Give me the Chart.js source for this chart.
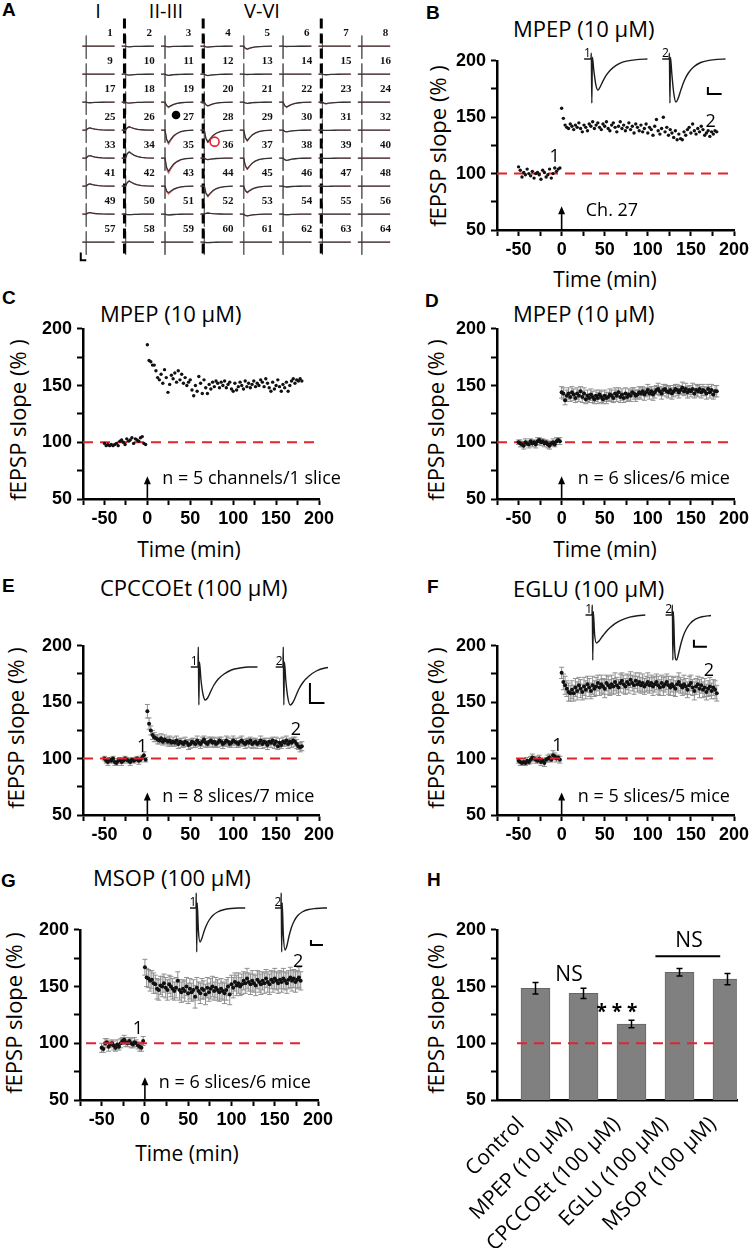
<!DOCTYPE html>
<html lang="en">
<head>
<meta charset="UTF-8">
<title>fEPSP slope - mGluR antagonists</title>
<script src="https://cdn.jsdelivr.net/npm/chart.js"></script>
<style>
  body { margin: 0; background: #fff; }
  #fig { position: relative; width: 750px; height: 1248px; overflow: hidden; font-family: "Open Sans", sans-serif; color: #000; }
  #fig canvas { position: absolute; }
  .lbl { position: absolute; font: bold 19px "Liberation Sans", Arial, sans-serif; line-height: 1; }
  .ttl { position: absolute; font-size: 22px; line-height: 1; white-space: nowrap; }
  .ytl { position: absolute; font-size: 22px; line-height: 1; white-space: nowrap; transform: translate(-50%, -50%) rotate(-90deg); }
  .xtl { position: absolute; font-size: 21px; line-height: 1; white-space: nowrap; transform: translate(-50%, -50%); }
</style>
</head>
<body>
<div id="fig">
  <!-- panel letters -->
  <div class="lbl" style="left:2px;top:0px">A</div>
  <div class="lbl" style="left:426px;top:3px">B</div>
  <div class="lbl" style="left:2px;top:288px">C</div>
  <div class="lbl" style="left:425px;top:291px">D</div>
  <div class="lbl" style="left:2px;top:576px">E</div>
  <div class="lbl" style="left:427px;top:577px">F</div>
  <div class="lbl" style="left:1px;top:871px">G</div>
  <div class="lbl" style="left:427px;top:870px">H</div>

  <!-- layer labels of the MEA -->
  <div class="xtl" style="left:98px;top:11px;font-size:20px">I</div>
  <div class="xtl" style="left:166px;top:11px;font-size:20px">II-III</div>
  <div class="xtl" style="left:262px;top:11px;font-size:20px">V-VI</div>

  <!-- titles -->
  <div class="ttl" style="left:513px;top:17px">MPEP (10 µM)</div>
  <div class="ttl" style="left:100px;top:302px">MPEP (10 µM)</div>
  <div class="ttl" style="left:513px;top:302px">MPEP (10 µM)</div>
  <div class="ttl" style="left:100px;top:576px">CPCCOEt (100 µM)</div>
  <div class="ttl" style="left:513px;top:577px">EGLU (100 µM)</div>
  <div class="ttl" style="left:93px;top:866px">MSOP (100 µM)</div>

  <!-- axis titles -->
  <div class="ytl" style="left:437px;top:146px">fEPSP slope (% )</div>
  <div class="ytl" style="left:17px;top:420px">fEPSP slope (% )</div>
  <div class="ytl" style="left:435px;top:420px">fEPSP slope (% )</div>
  <div class="ytl" style="left:15px;top:728px">fEPSP slope (% )</div>
  <div class="ytl" style="left:435px;top:728px">fEPSP slope (% )</div>
  <div class="ytl" style="left:13px;top:1013px">fEPSP slope (% )</div>
  <div class="ytl" style="left:435px;top:1013px">fEPSP slope (% )</div>
  <div class="xtl" style="left:605px;top:279px">Time (min)</div>
  <div class="xtl" style="left:189px;top:549px">Time (min)</div>
  <div class="xtl" style="left:605px;top:549px">Time (min)</div>
  <div class="xtl" style="left:187px;top:1153px">Time (min)</div>
</div>

<script>
// ---- tick labels ----
const xTickLabels = [-50, 0, 50, 100, 150, 200];
const yTickLabels = [50, 100, 150, 200];

// ---- time points (min) ----
const tBase = [-50, -48, -46, -44, -42, -40, -38, -36, -34, -32, -30, -28, -26, -24, -22, -20, -18, -16, -14, -12, -10, -8, -6, -4, -2];
const tPost = [0, 2, 4, 6, 8, 10, 12, 14, 16, 18,
  20, 22, 24, 26, 28, 30, 32, 34, 36, 38,
  40, 42, 44, 46, 48, 50, 52, 54, 56, 58,
  60, 62, 64, 66, 68, 70, 72, 74, 76, 78,
  80, 82, 84, 86, 88, 90, 92, 94, 96, 98,
  100, 102, 104, 106, 108, 110, 112, 114, 116, 118,
  120, 122, 124, 126, 128, 130, 132, 134, 136, 138,
  140, 142, 144, 146, 148, 150, 152, 154, 156, 158,
  160, 162, 164, 166, 168, 170, 172, 174, 176, 178,
  180];

// ---- B: MPEP, channel 27 ----
const bBase = [106, 103, 97, 101, 99, 104, 100, 98, 102, 96, 100, 101, 99, 95, 103, 101, 97, 99, 104, 96, 100, 105, 102, 104, 105];
const bPost = [158, 149, 143, 141, 140, 144, 142, 139, 143, 141,
  145, 140, 137, 143, 141, 138, 144, 142, 146, 140,
  143, 145, 141, 139, 144, 142, 146, 140, 138, 143,
  145, 141, 137, 142, 146, 140, 143, 138, 141, 145,
  139, 142, 136, 144, 141, 138, 143, 137, 140, 144,
  136, 141, 139, 134, 142, 148, 138, 135, 140, 150,
  137, 141, 134, 139, 136, 132, 138, 130, 135, 131,
  130, 137, 134, 139, 141, 136, 144, 138, 135, 140,
  137, 142, 139, 134, 136, 138, 133, 137, 135, 138,
  137];

// ---- C: MPEP, 5 channels / 1 slice ----
const cBase = [99, 97, 98, 97, 98, 97, 98, 99, 97, 101, 102, 100, 98, 103, 101, 102, 104, 99, 103, 102, 101, 104, 105, 99, 98];
const cPost = [186, 172, 171, 168, 168, 163, 157, 155, 160, 152,
  164, 157, 144, 151, 159, 156, 161, 153, 163, 155,
  160, 152, 157, 150, 153, 155, 146, 141, 150, 145,
  158, 152, 143, 155, 148, 143, 151, 147, 153, 149,
  154, 152, 148, 153, 150, 154, 148, 151, 153, 147,
  145, 152, 146, 149, 153, 150, 147, 154, 149, 152,
  148, 151, 154, 149, 152, 150, 155, 153, 149, 156,
  152, 148, 145, 153, 147, 150, 155, 149, 145, 151,
  148, 153, 145, 150, 154, 156, 152, 155, 154, 156,
  154];

// ---- D: MPEP, 6 slices ----
const dBase = [100, 99, 98, 97, 100, 99, 98, 101, 99, 100, 98, 101, 102, 100, 101, 99, 100, 98, 97, 99, 100, 98, 101, 102, 101];
const dBaseSem = [2, 3, 2, 3, 3, 2, 3, 2, 3, 2, 3, 3, 2, 3, 2, 3, 2, 3, 3, 2, 3, 2, 3, 2, 3];
const dPost = [144, 143, 137, 141, 143, 140, 144, 142, 139, 143,
  141, 145, 140, 143, 138, 141, 139, 142, 140, 138,
  141, 139, 142, 140, 138, 141, 139, 140, 142, 141,
  139, 143, 141, 144, 140, 142, 139, 143, 140, 142,
  141, 144, 143, 141, 142, 144, 143, 145, 142, 144,
  146, 143, 145, 142, 144, 146, 147, 145, 143, 146,
  147, 145, 144, 146, 143, 145, 147, 146, 144, 146,
  148, 145, 147, 144, 146, 145, 147, 143, 146, 145,
  147, 144, 146, 145, 143, 147, 144, 146, 142, 145,
  145];
const dPostSem = [5, 5, 4, 5, 5, 4, 5, 5, 4, 5,
  5, 4, 5, 5, 4, 5, 4, 5, 5, 4,
  5, 5, 4, 5, 4, 5, 5, 4, 5, 5,
  4, 5, 5, 4, 5, 5, 4, 5, 4, 5,
  5, 4, 5, 5, 4, 5, 5, 4, 5, 4,
  5, 5, 4, 5, 5, 4, 5, 4, 5, 5,
  4, 5, 5, 4, 5, 5, 4, 5, 5, 4,
  5, 4, 5, 5, 4, 5, 5, 4, 5, 5,
  4, 5, 5, 4, 5, 4, 5, 5, 4, 5,
  5];

// ---- E: CPCCOEt ----
const eBase = [100, 98, 97, 99, 98, 100, 97, 96, 98, 99, 97, 98, 100, 99, 98, 97, 99, 98, 99, 100, 98, 99, 101, 103, 99];
const eBaseSem = [2, 2, 3, 2, 2, 2, 3, 2, 2, 2, 3, 2, 2, 2, 2, 3, 2, 2, 2, 2, 3, 2, 2, 3, 2];
const ePost = [142, 131, 125, 121, 119, 118, 117, 116, 118, 115,
  117, 116, 115, 116, 114, 115, 114, 116, 113, 115,
  114, 113, 115, 114, 112, 113, 115, 114, 113, 116,
  114, 113, 115, 117, 114, 113, 115, 116, 114, 115,
  113, 114, 116, 115, 113, 114, 116, 115, 113, 114,
  116, 115, 114, 113, 115, 116, 114, 113, 115, 114,
  116, 113, 114, 115, 113, 114, 116, 113, 115, 114,
  112, 115, 114, 116, 113, 115, 111, 114, 112, 115,
  114, 116, 113, 115, 114, 116, 115, 113, 111, 110,
  111];
const ePostSem = [6, 5, 4, 4, 4, 3, 4, 3, 4, 3,
  4, 3, 4, 4, 3, 4, 3, 4, 4, 3,
  4, 3, 4, 3, 4, 4, 3, 4, 3, 4,
  3, 4, 4, 3, 4, 3, 4, 3, 4, 4,
  3, 4, 3, 4, 4, 3, 4, 4, 3, 4,
  4, 3, 4, 3, 4, 4, 3, 4, 3, 4,
  3, 4, 4, 3, 4, 3, 4, 4, 3, 4,
  4, 3, 4, 3, 4, 4, 3, 4, 3, 4,
  3, 4, 4, 3, 4, 3, 4, 4, 3, 4,
  4];

// ---- F: EGLU ----
const fBase = [98, 97, 96, 97, 96, 98, 97, 99, 101, 100, 99, 98, 100, 97, 98, 96, 99, 100, 101, 99, 103, 102, 100, 101, 99];
const fBaseSem = [2, 3, 2, 3, 2, 3, 2, 3, 3, 2, 3, 2, 3, 3, 2, 3, 2, 3, 3, 2, 4, 3, 3, 2, 3];
const fPost = [176, 168, 165, 162, 159, 158, 161, 158, 163, 160,
  165, 162, 159, 164, 161, 166, 163, 160, 165, 162,
  164, 167, 163, 166, 164, 162, 167, 165, 163, 166,
  164, 168, 165, 163, 167, 169, 166, 164, 168, 166,
  170, 167, 165, 169, 166, 168, 165, 167, 164, 166,
  168, 165, 167, 164, 166, 168, 165, 163, 167, 164,
  166, 168, 165, 163, 166, 164, 162, 166, 168, 165,
  163, 166, 164, 161, 165, 167, 163, 160, 164, 166,
  162, 165, 161, 163, 159, 162, 164, 160, 163, 161,
  158];
const fPostSem = [5, 7, 8, 7, 8, 7, 8, 7, 8, 8,
  7, 8, 7, 8, 8, 7, 8, 7, 8, 7,
  8, 7, 7, 8, 7, 8, 7, 8, 7, 8,
  7, 8, 7, 7, 8, 7, 8, 7, 7, 8,
  7, 7, 8, 7, 7, 8, 7, 8, 7, 7,
  8, 7, 7, 8, 7, 7, 8, 7, 7, 8,
  7, 7, 8, 7, 7, 8, 7, 7, 8, 7,
  7, 8, 7, 7, 8, 7, 7, 8, 7, 7,
  8, 7, 7, 8, 7, 7, 8, 7, 7, 8,
  7];

// ---- G: MSOP ----
const gBase = [96, 95, 100, 101, 97, 99, 100, 98, 96, 99, 97, 100, 102, 103, 101, 100, 102, 100, 99, 101, 100, 98, 97, 96, 102];
const gBaseSem = [4, 3, 4, 3, 4, 3, 3, 4, 3, 4, 3, 4, 3, 4, 4, 3, 3, 4, 3, 4, 3, 3, 4, 3, 4];
const gPost = [167, 158, 157, 155, 156, 153, 152, 148, 147, 151,
  150, 153, 149, 147, 152, 150, 148, 146, 149, 155,
  147, 145, 148, 146, 150, 144, 148, 145, 147, 141,
  149, 146, 144, 148, 147, 143, 149, 145, 148, 150,
  146, 149, 147, 145, 148, 146, 144, 147, 150, 143,
  152, 149, 154, 151, 153, 150, 152, 155, 153, 157,
  154, 152, 155, 153, 151, 156, 154, 152, 155, 153,
  157, 154, 152, 156, 154, 157, 155, 153, 156, 154,
  157, 155, 153, 156, 158, 155, 157, 154, 156, 158,
  155];
const gPostSem = [7, 8, 8, 9, 8, 9, 8, 9, 9, 8,
  9, 8, 9, 9, 8, 9, 9, 8, 9, 8,
  9, 9, 8, 9, 8, 9, 9, 8, 9, 10,
  9, 8, 9, 9, 8, 9, 9, 8, 9, 9,
  8, 9, 9, 8, 9, 8, 9, 9, 8, 9,
  8, 9, 8, 9, 9, 8, 9, 8, 9, 9,
  8, 9, 9, 8, 9, 8, 9, 9, 8, 9,
  8, 9, 9, 8, 9, 9, 8, 9, 8, 9,
  9, 8, 9, 8, 9, 9, 8, 9, 8, 9,
  8];

// ---- H: summary ----
const hGroups = ['Control', 'MPEP (10 µM)', 'CPCCOEt (100 µM)', 'EGLU (100 µM)', 'MSOP (100 µM)'];
const hMeans = [148.5, 144, 117, 162.5, 156.5];
const hSem = [5, 4.5, 3.3, 3.3, 5];

// ---- A: 8x8 MEA, response amplitude per channel (row units, + = negative fEPSP) ----
const traceDx = [-0.1, 0.0, 0.04, 0.09, 0.15, 0.22, 0.3, 0.4, 0.52, 0.72];
const traceShape = [0, 0, -0.7, -1, -0.72, -0.45, -0.26, -0.12, -0.04, 0];
const ampBlack = [
  0, 0.02, 0.02, 0.03, 0.1, 0.01, 0, 0,
  0, 0.03, 0.04, 0.05, 0.01, 0, 0.02, 0,
  0.02, 0.03, 0.17, 0.13, 0.04, 0.17, 0.05, 0,
  -0.08, -0.12, 0.45, 0.42, 0.37, 0.06, 0.01, 0,
  -0.09, -0.22, 0.47, 0.05, 0.38, 0.08, 0.01, 0,
  -0.08, -0.18, 0.24, 0.35, 0.22, 0.03, 0.01, 0,
  -0.05, 0.02, 0.03, -0.04, 0.06, 0.02, 0, 0,
  0, 0, 0, 0.02, 0, 0, 0, 0];
const ampRed = [
  0, 0.02, 0.02, 0.03, 0.12, 0.01, 0, 0,
  0, 0.03, 0.05, 0.05, 0.01, 0, 0.02, 0,
  0.02, 0.03, 0.2, 0.15, 0.05, 0.2, 0.07, 0,
  -0.09, -0.13, 0.52, 0.46, 0.4, 0.06, 0.01, 0,
  -0.1, -0.25, 0.56, 0.06, 0.42, 0.09, 0.01, 0,
  -0.09, -0.2, 0.3, 0.4, 0.25, 0.03, 0.01, 0,
  -0.06, 0.02, 0.04, -0.04, 0.07, 0.03, 0, 0,
  0, 0, 0, 0.02, 0, 0, 0, 0];
const layerCols = [1, 3, 6];
const recordChannel = 27, stimChannel = 36;

// ---- inset sweeps (ms, mV) ----
const waveT = [-2.5, 0, 0.1, 0.3, 0.5, 1.0, 1.7, 2.5, 3.3, 4.3, 5.5, 7, 9, 11.5, 14.5, 17.5, 20.5];
const bWave1 = [0, 0, 0.17, -1.26, 0.05, -0.31, -0.71, -0.89, -0.8, -0.64, -0.47, -0.32, -0.19, -0.09, -0.04, -0.01, 0];
const bWave2 = [0, 0, 0.17, -1.26, 0.05, -0.43, -0.98, -1.23, -1.12, -0.88, -0.62, -0.4, -0.22, -0.1, -0.04, -0.01, 0];
const eWave1 = [0, 0, 0.2, -0.38, 0.05, -0.12, -0.27, -0.33, -0.31, -0.25, -0.18, -0.12, -0.07, -0.03, -0.01, 0, 0];
const eWave2 = [0, 0, 0.2, -0.38, 0.05, -0.14, -0.31, -0.38, -0.36, -0.3, -0.22, -0.15, -0.09, -0.04, -0.01, 0, 0];
const fWave1 = [0, 0, 0.29, -1.29, 0.1, -0.55, -0.8, -0.76, -0.68, -0.58, -0.47, -0.36, -0.24, -0.14, -0.06, -0.02, 0];
const fWave2 = [0, 0, 0.29, -1.29, 0.1, -1.0, -1.29, -1.1, -0.85, -0.6, -0.4, -0.24, -0.12, -0.05, -0.02, 0, 0];
const gWave1 = [0, 0, 0.6, -1.76, 0.2, -0.9, -1.36, -1.2, -0.95, -0.7, -0.48, -0.3, -0.16, -0.07, -0.02, 0, 0];
const gWave2 = [0, 0, 0.6, -1.76, 0.2, -1.1, -1.68, -1.5, -1.15, -0.8, -0.52, -0.3, -0.15, -0.06, -0.02, 0, 0];

// ================= drawing =================
const fig = document.getElementById('fig');
const RED = '#e3232b';
const DASH = [10, 7];
const yW = 52, xH = 30, padT = 12, padR = 22;
const tickFont = { family: '"Liberation Sans", Arial, sans-serif', weight: 'bold', size: 18 };

function addCanvas(x, y, w, h) {
  x = Math.round(x); y = Math.round(y); w = Math.round(w); h = Math.round(h);
  const c = document.createElement('canvas');
  c.width = w; c.height = h;
  c.style.left = x + 'px'; c.style.top = y + 'px';
  c.style.width = w + 'px'; c.style.height = h + 'px';
  fig.appendChild(c);
  return c;
}

function linAxis(min, max, labels, fit, pad) {
  return {
    type: 'linear', min: min, max: max,
    afterFit: fit,
    border: { color: '#000', width: 2.5 },
    grid: { drawOnChartArea: false, tickLength: 6, tickWidth: 2, tickColor: '#000' },
    ticks: {
      stepSize: 25, autoSkip: false, maxRotation: 0, padding: pad, color: '#000', font: tickFont,
      callback: v => labels.includes(v) ? String(v) : ''
    }
  };
}

// error bars + text + arrow drawn in data coordinates
function drawSem(chart, onTop) {
  const ctx = chart.ctx, ys = chart.scales.y;
  chart.data.datasets.forEach((ds, i) => {
    if (!ds.sem || !!ds.semOnTop !== onTop) return;
    const meta = chart.getDatasetMeta(i);
    ctx.save();
    ctx.strokeStyle = ds.semColor || '#8f8f8f';
    ctx.lineWidth = ds.semWidth || 1;
    const cap = ds.semCap || 2.5;
    meta.data.forEach((el, j) => {
      const d = ds.data[j];
      const v = typeof d === 'number' ? d : d.y;
      const t = ys.getPixelForValue(v + ds.sem[j]), b = ys.getPixelForValue(v - ds.sem[j]);
      ctx.beginPath();
      ctx.moveTo(el.x, t); ctx.lineTo(el.x, b);
      ctx.moveTo(el.x - cap, t); ctx.lineTo(el.x + cap, t);
      ctx.moveTo(el.x - cap, b); ctx.lineTo(el.x + cap, b);
      ctx.stroke();
    });
    ctx.restore();
  });
}

function notes(n) {
  return {
    id: 'notes',
    beforeDatasetsDraw(chart) { drawSem(chart, false); },
    afterDatasetsDraw(chart) {
      drawSem(chart, true);
      const ctx = chart.ctx, xs = chart.scales.x, ys = chart.scales.y;
      ctx.save();
      ctx.fillStyle = '#000'; ctx.strokeStyle = '#000';
      (n.texts || []).forEach(t => {
        ctx.font = t.font || '18px "Open Sans"';
        ctx.textAlign = t.align || 'center';
        ctx.textBaseline = 'middle';
        ctx.fillText(t.text, xs.getPixelForValue(t.x), ys.getPixelForValue(t.y));
      });
      if (n.arrow) {
        const ax = xs.getPixelForValue(n.arrow.x);
        const y0 = ys.getPixelForValue(n.arrow.from), y1 = ys.getPixelForValue(n.arrow.to);
        ctx.lineWidth = 1.6;
        ctx.beginPath(); ctx.moveTo(ax, y0); ctx.lineTo(ax, y1 + 6); ctx.stroke();
        ctx.beginPath(); ctx.moveTo(ax, y1); ctx.lineTo(ax - 3.5, y1 + 8); ctx.lineTo(ax + 3.5, y1 + 8); ctx.closePath(); ctx.fill();
      }
      (n.lines || []).forEach(l => {
        ctx.lineWidth = 1.8;
        const y = ys.getPixelForValue(l.y);
        ctx.beginPath(); ctx.moveTo(xs.getPixelForValue(l.x0), y); ctx.lineTo(xs.getPixelForValue(l.x1), y); ctx.stroke();
      });
      ctx.restore();
    }
  };
}

const baseOpts = () => ({
  responsive: false, animation: false, events: [],
  plugins: { legend: { display: false }, tooltip: { enabled: false } }
});

function timePanel(p) {
  const cv = addCanvas(p.L - yW, p.T - padT, yW + p.R - p.L + padR, padT + p.B - p.T + xH);
  const red = {
    data: [{ x: p.line[0], y: 100 }, { x: p.line[1], y: 100 }],
    showLine: true, borderColor: RED, borderWidth: 2, borderDash: DASH, pointRadius: 0
  };
  const pts = (t, v, sem) => ({
    data: t.map((x, i) => ({ x: x, y: v[i] })), sem: sem,
    backgroundColor: '#111', borderColor: '#111', borderWidth: 0, pointRadius: p.r
  });
  const sets = [pts(tPost, p.post, p.postSem), pts(tBase, p.base, p.baseSem)];
  const datasets = p.redOnTop ? [red].concat(sets) : sets.concat([red]);
  const opts = baseOpts();
  opts.layout = { padding: { top: padT, right: padR, left: 0, bottom: 0 } };
  opts.scales = {
    x: linAxis(-75, 200, xTickLabels, s => { s.height = xH; }, 3),
    y: linAxis(50, 200, yTickLabels, s => { s.width = yW; }, 5)
  };
  new Chart(cv, { type: 'scatter', data: { datasets: datasets }, options: opts, plugins: [notes(p.notes)] });
}

function insetChart(s) {
  const all = s.w1.concat(s.w2);
  const topMv = Math.max.apply(null, all), botMv = -Math.min.apply(null, all);
  const left = Math.round(s.x0 - 12), right = Math.round(s.x0 + (s.barT + 5) * s.ppm + 4);
  const top = Math.round(s.yBase - topMv * s.ppv - 16), bottom = Math.round(s.yBase + botMv * s.ppv + 4);
  const cv = addCanvas(left, top, right - left, bottom - top);
  const trace = (w, shift) => ({
    data: waveT.map((t, i) => ({ x: t + shift, y: w[i] })),
    showLine: true, borderColor: '#1c1c1c', borderWidth: 1.4, pointRadius: 0, cubicInterpolationMode: 'monotone'
  });
  const bar = {
    data: [{ x: s.barT, y: s.barV + 0.2 }, { x: s.barT, y: s.barV }, { x: s.barT + 5, y: s.barV }],
    showLine: true, borderColor: '#000', borderWidth: 2, pointRadius: 0
  };
  const opts = baseOpts();
  opts.scales = {
    x: { type: 'linear', display: false, min: (left - s.x0) / s.ppm, max: (right - s.x0) / s.ppm },
    y: { type: 'linear', display: false, min: (s.yBase - bottom) / s.ppv, max: (s.yBase - top) / s.ppv }
  };
  const lab = 2 / s.ppv;
  new Chart(cv, {
    type: 'scatter',
    data: { datasets: [trace(s.w1, 0), trace(s.w2, s.gap), bar] },
    options: opts,
    plugins: [{
      id: 'sweepLabels',
      afterDatasetsDraw(chart) {
        const ctx = chart.ctx, xs = chart.scales.x, ys = chart.scales.y;
        ctx.save();
        ctx.font = '12px "Open Sans"'; ctx.fillStyle = '#000';
        ctx.textAlign = 'center'; ctx.textBaseline = 'alphabetic';
        ctx.fillText('1', xs.getPixelForValue(-1.3), ys.getPixelForValue(lab));
        ctx.fillText('2', xs.getPixelForValue(-1.3 + s.gap), ys.getPixelForValue(lab));
        ctx.restore();
      }
    }]
  });
}

// ---- panel A ----
(function panelA() {
  const W = 400, H = 272, colPx = 40.6, rowPx = 29.3, x0 = 82.7, y0 = 42;
  const cv = addCanvas(0, 0, W, H);
  const traces = amp => {
    const out = [];
    amp.forEach((a, i) => {
      const c = i % 8, r = Math.floor(i / 8);
      traceDx.forEach((dx, k) => out.push({ x: c + dx, y: -r + traceShape[k] * a }));
      out.push({ x: c + 0.8, y: null });
    });
    return out;
  };
  const cross = [];
  for (let i = 0; i < 64; i++) {
    const c = i % 8, r = Math.floor(i / 8);
    cross.push({ x: c, y: -r + 0.38 }, { x: c, y: -r - 0.45 }, { x: c, y: null });
  }
  const dashes = [];
  layerCols.forEach(c => dashes.push({ x: c - 0.03, y: 0.99 }, { x: c - 0.03, y: -7.51 }, { x: c, y: null }));
  const pos = ch => ({ c: (ch - 1) % 8, r: Math.floor((ch - 1) / 8) });
  const rc = pos(recordChannel), sc = pos(stimChannel);
  const line = (data, color, w, dash) => ({ data: data, showLine: true, borderColor: color, borderWidth: w, borderDash: dash || [], pointRadius: 0, spanGaps: false });
  const opts = baseOpts();
  opts.scales = {
    x: { type: 'linear', display: false, min: -x0 / colPx, max: (W - x0) / colPx },
    y: { type: 'linear', display: false, min: (y0 - H) / rowPx, max: y0 / rowPx }
  };
  new Chart(cv, {
    type: 'scatter',
    data: {
      datasets: [
        { data: [{ x: rc.c + 0.28, y: -rc.r + 0.54 }], pointRadius: 4.3, backgroundColor: '#000', borderWidth: 0 },
        { data: [{ x: sc.c + 0.26, y: -sc.r + 0.59 }], pointRadius: 4.5, backgroundColor: 'rgba(0,0,0,0)', borderColor: RED, borderWidth: 1.6 },
        line(traces(ampBlack), '#333', 1.3),
        line(traces(ampRed), '#e0474b', 0.8),
        line(dashes, '#000', 3, [10, 5]),
        line(cross, '#666', 1),
        line([{ x: -0.14, y: -7.37 }, { x: -0.14, y: -7.645 }, { x: 0.0, y: -7.645 }], '#000', 2)
      ]
    },
    options: opts,
    plugins: [{
      id: 'channelNumbers',
      afterDatasetsDraw(chart) {
        const ctx = chart.ctx, xs = chart.scales.x, ys = chart.scales.y;
        ctx.save();
        ctx.font = 'bold 11px "Liberation Serif", serif'; ctx.fillStyle = '#111';
        ctx.textAlign = 'center'; ctx.textBaseline = 'middle';
        for (let i = 0; i < 64; i++) {
          const c = i % 8, r = Math.floor(i / 8);
          ctx.fillText(String(i + 1), xs.getPixelForValue(c + 0.6), ys.getPixelForValue(-r + 0.48));
        }
        ctx.restore();
      }
    }]
  });
})();

// ---- panels B-G ----
timePanel({ L: 497, R: 734, T: 57, B: 230, base: bBase, post: bPost, r: 1.7, line: [-75, 200],
  notes: { texts: [{ x: -8, y: 114.7, text: '1' }, { x: 173, y: 146, text: '2' }, { x: 28, y: 67, text: 'Ch. 27', align: 'left' }],
           arrow: { x: 0, from: 50, to: 71 } } });
timePanel({ L: 83, R: 319, T: 325, B: 499, base: cBase, post: cPost, r: 1.7, line: [-75, 195],
  notes: { texts: [{ x: 17.4, y: 68, text: 'n = 5 channels/1 slice', align: 'left' }], arrow: { x: 0, from: 50, to: 70 } } });
timePanel({ L: 497, R: 734, T: 325, B: 499, base: dBase, post: dPost, baseSem: dBaseSem, postSem: dPostSem, r: 2, line: [-75, 198],
  notes: { texts: [{ x: 18.7, y: 68, text: 'n = 6 slices/6 mice', align: 'left' }], arrow: { x: 0, from: 50, to: 70 } } });
timePanel({ L: 83, R: 319, T: 642, B: 815, base: eBase, post: ePost, baseSem: eBaseSem, postSem: ePostSem, r: 2, line: [-75, 180], redOnTop: true,
  notes: { texts: [{ x: -6, y: 110, text: '1' }, { x: 173, y: 125.5, text: '2' }, { x: 17.4, y: 66.5, text: 'n = 8 slices/7 mice', align: 'left' }],
           arrow: { x: 0, from: 50, to: 70 } } });
timePanel({ L: 497, R: 734, T: 642, B: 815, base: fBase, post: fPost, baseSem: fBaseSem, postSem: fPostSem, r: 2, line: [-53, 180], redOnTop: true,
  notes: { texts: [{ x: -5, y: 111.6, text: '1' }, { x: 171, y: 178, text: '2' }, { x: 18.7, y: 66.5, text: 'n = 5 slices/5 mice', align: 'left' }],
           arrow: { x: 0, from: 50, to: 70 } } });
timePanel({ L: 80, R: 318, T: 926, B: 1100, base: gBase, post: gPost, baseSem: gBaseSem, postSem: gPostSem, r: 2, line: [-68, 180], redOnTop: true,
  notes: { texts: [{ x: -8, y: 113, text: '1' }, { x: 177, y: 172, text: '2' }, { x: 16, y: 65.5, text: 'n = 6 slices/6 mice', align: 'left' }],
           arrow: { x: 0, from: 50, to: 70 } } });

// ---- insets ----
insetChart({ x0: 591, ppm: 2.75, gap: 28.4, yBase: 59, ppv: 35, barT: 42.5, barV: -1.0, w1: bWave1, w2: bWave2 });
insetChart({ x0: 198, ppm: 2.9, gap: 29.3, yBase: 667, ppv: 100, barT: 38.6, barV: -0.36, w1: eWave1, w2: eWave2 });
insetChart({ x0: 592, ppm: 2.6, gap: 30.8, yBase: 615, ppv: 35, barT: 39.2, barV: -0.91, w1: fWave1, w2: fWave2 });
insetChart({ x0: 196, ppm: 2.4, gap: 35.4, yBase: 908, ppv: 25, barT: 47.9, barV: -1.48, w1: gWave1, w2: gWave2 });

// ---- panel H ----
(function panelH() {
  const L = 497, R = 737, T = 926, B = 1100, xHH = 148;
  const cv = addCanvas(L - yW, T - padT, yW + R - L + padR, padT + B - T + xHH);
  const opts = baseOpts();
  opts.layout = { padding: { top: padT, right: padR, left: 0, bottom: 0 } };
  opts.scales = {
    x: {
      type: 'category', afterFit: s => { s.height = xHH; },
      border: { color: '#000', width: 2.5 }, grid: { display: false },
      ticks: { autoSkip: false, minRotation: 45, maxRotation: 45, padding: 4, color: '#000', font: { family: '"Open Sans"', size: 21 } }
    },
    x2: { type: 'linear', display: false, min: 0, max: 1 },
    y: linAxis(50, 200, yTickLabels, s => { s.width = yW; }, 5)
  };
  new Chart(cv, {
    type: 'bar',
    data: {
      labels: hGroups,
      datasets: [
        { type: 'line', xAxisID: 'x2', data: [{ x: 0, y: 100 }, { x: 1, y: 100 }], borderColor: RED, borderWidth: 2, borderDash: DASH, pointRadius: 0 },
        { data: hMeans, sem: hSem, semOnTop: true, semColor: '#000', semWidth: 1.5, semCap: 3,
          backgroundColor: '#808080', borderColor: '#666', borderWidth: 1, barThickness: 29 }
      ]
    },
    options: opts,
    plugins: [notes({
      texts: [
        { x: 1, y: 160.5, text: 'NS', font: '21px "Open Sans"' },
        { x: 2, y: 127, text: '* * *', font: 'bold 19px "Open Sans"' },
        { x: 3.5, y: 190, text: 'NS', font: '21px "Open Sans"' }
      ],
      lines: [{ x0: 2.8, x1: 4.15, y: 176.7 }]
    })]
  });
})();
</script>
</body>
</html>
